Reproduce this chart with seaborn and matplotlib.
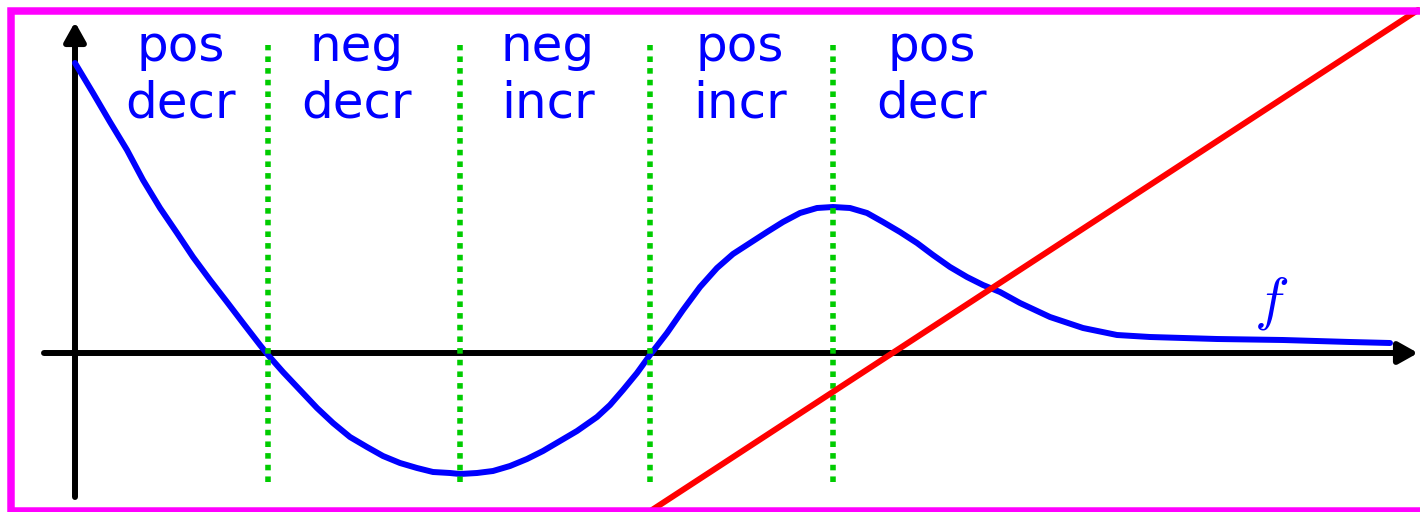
import pandas as pd
import seaborn as sns
import matplotlib.pyplot as plt

# blue curve f (1 unit = 100 px, origin at the axes crossing)
CURVE_X = [0.00, 0.18, 0.35, 0.52, 0.68, 0.85, 1.02, 1.18, 1.35, 1.52, 1.68, 1.85,
           1.93, 2.08, 2.25, 2.42, 2.58, 2.75, 2.92, 3.08, 3.25, 3.42, 3.58, 3.75,
           3.85, 4.02, 4.18, 4.35, 4.52, 4.68, 4.85, 5.02, 5.22, 5.35, 5.48, 5.62,
           5.75, 5.92, 6.08, 6.25, 6.42, 6.58, 6.75, 6.92, 7.08, 7.25, 7.42, 7.58,
           7.75, 7.92, 8.08, 8.25, 8.42, 8.58, 8.75, 8.92, 9.08, 9.25, 9.45, 9.75,
           10.08, 10.42, 10.75, 11.42, 12.08, 12.75, 13.15]
CURVE_Y = [2.90, 2.60, 2.31, 2.03, 1.73, 1.45, 1.20, 0.96, 0.73, 0.51, 0.30, 0.08,
           -0.02, -0.19, -0.37, -0.55, -0.70, -0.84, -0.94, -1.03, -1.10, -1.15, -1.19, -1.20,
           -1.21, -1.20, -1.18, -1.13, -1.06, -0.98, -0.88, -0.78, -0.64, -0.52, -0.37, -0.20,
           -0.02, 0.20, 0.43, 0.66, 0.85, 0.99, 1.10, 1.21, 1.31, 1.40, 1.45, 1.46,
           1.45, 1.40, 1.31, 1.21, 1.10, 0.98, 0.86, 0.76, 0.68, 0.61, 0.50, 0.36,
           0.25, 0.18, 0.16, 0.14, 0.13, 0.11, 0.10]

# red straight line
LINE_X = [5.77, 13.43]
LINE_Y = [-1.57, 3.43]

# green dotted dividers
DIVIDER_X = [1.93, 3.85, 5.75, 7.58]
DIVIDER_Y0, DIVIDER_Y1 = -1.29, 3.08

# region labels
LABEL_X = [1.06, 2.82, 4.73, 6.65, 8.57]
LABEL_SIGN = ["pos", "neg", "neg", "pos", "pos"]
LABEL_TREND = ["decr", "decr", "incr", "incr", "decr"]

XLIM = (-0.75, 13.45)
YLIM = (-1.59, 3.53)

BLUE, RED, GREEN, MAGENTA = "#0000ff", "#ff0000", "#00cc00", "#ff00ff"


def main():
    sns.set_theme(style="white")
    plt.rcParams["font.family"] = ["DejaVu Sans"]
    plt.rcParams["mathtext.fontset"] = "cm"

    fig = plt.figure(figsize=(14.2, 5.12), dpi=100)
    ax = fig.add_axes([0, 0, 1, 1])
    ax.set_xlim(*XLIM)
    ax.set_ylim(*YLIM)
    ax.axis("off")

    # axes with arrow heads
    arrow = dict(arrowstyle="-|>,head_length=0.5,head_width=0.28", mutation_scale=23,
                 lw=4.3, color="black", shrinkA=0, shrinkB=0)
    ax.annotate("", xy=(13.43, 0), xytext=(-0.31, 0), arrowprops=arrow, zorder=1)
    ax.annotate("", xy=(0, 3.31), xytext=(0, -1.44), arrowprops=arrow, zorder=1)

    curve = pd.DataFrame({"x": CURVE_X, "y": CURVE_Y})
    sns.lineplot(data=curve, x="x", y="y", sort=False, estimator=None,
                 color=BLUE, lw=4.3, ax=ax, zorder=2)

    ax.vlines(DIVIDER_X, DIVIDER_Y0, DIVIDER_Y1, colors=GREEN, lw=4.0,
              linestyles=(0, (1, 1.1)), zorder=3)

    line = pd.DataFrame({"x": LINE_X, "y": LINE_Y})
    sns.lineplot(data=line, x="x", y="y", color=RED, lw=4.3, ax=ax, zorder=4)

    for x, s, t in zip(LABEL_X, LABEL_SIGN, LABEL_TREND):
        ax.text(x, 2.92, s, color=BLUE, fontsize=36, ha="center", va="baseline")
        ax.text(x, 2.36, t, color=BLUE, fontsize=36, ha="center", va="baseline")

    ax.text(11.96, 0.50, "$f$", color=BLUE, fontsize=42, ha="center", va="center")

    ax.set_xlabel("")
    ax.set_ylabel("")

    # magenta frame: left, top and bottom; the right side runs off the picture
    ax.plot([1.05, 0.0074, 0.0074, 1.05], [0.9785, 0.9785, 0.002, 0.002],
            transform=ax.transAxes, color=MAGENTA, lw=5.4, clip_on=False,
            solid_joinstyle="miter", zorder=5)

    fig.savefig("out.png", dpi=100)


if __name__ == "__main__":
    main()
